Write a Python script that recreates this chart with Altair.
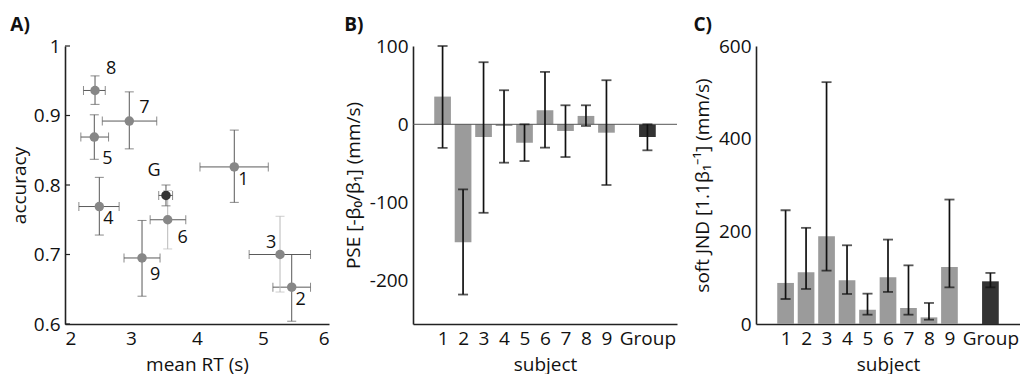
import altair as alt
import pandas as pd

FONT = "Open Sans"

# ---------------- Panel A data ----------------
subj_a = ["1", "2", "3", "4", "5", "6", "7", "8", "9", "G"]
rt_mean = [4.565, 5.435, 5.258, 2.52, 2.444, 3.556, 2.974, 2.455, 3.167, 3.53]
rt_low = [4.045, 5.15, 4.79, 2.21, 2.24, 3.29, 2.565, 2.28, 2.894, 3.42]
rt_high = [5.08, 5.72, 5.72, 2.82, 2.66, 3.83, 3.39, 2.61, 3.44, 3.63]
acc_mean = [0.826, 0.653, 0.700, 0.769, 0.869, 0.750, 0.892, 0.936, 0.695, 0.785]
acc_low = [0.775, 0.604, 0.646, 0.728, 0.837, 0.708, 0.852, 0.916, 0.640, 0.770]
acc_high = [0.879, 0.700, 0.755, 0.811, 0.901, 0.792, 0.934, 0.957, 0.749, 0.800]
a_x_ticks = [2, 3, 4, 5, 6]
a_y_ticks = [0.6, 0.7, 0.8, 0.9, 1.0]

# ---------------- Panels B / C data ----------------
subj_bc = ["1", "2", "3", "4", "5", "6", "7", "8", "9", "Group"]
subj_pos = [1, 2, 3, 4, 5, 6, 7, 8, 9, 11]
pse = [35.4, -150.5, -16.2, -2.1, -23.4, 17.9, -8.5, 10.7, -10.7, -16.2]
pse_low = [-30.1, -217.4, -113.0, -49.0, -46.9, -29.8, -41.8, -2.1, -77.5, -33.2]
pse_high = [100.0, -83.1, 79.3, 43.5, 0.0, 66.9, 24.3, 24.3, 56.3, 0.0]
jnd = [88.6, 111.5, 189.3, 94.2, 30.9, 100.7, 34.6, 14.3, 123.2, 92.1]
jnd_low = [54.0, 75.6, 115.2, 64.8, 20.1, 69.2, 20.1, 9.3, 79.1, 79.1]
jnd_high = [245.5, 207.5, 522.0, 169.9, 65.5, 182.2, 126.6, 45.4, 268.6, 110.2]
b_y_ticks = [-200, -100, 0, 100]
c_y_ticks = [0, 200, 400, 600]

# label offsets (style) for panel A point labels
label_offsets = {
    "1": (9, 13), "2": (9, 13), "3": (-9, -12), "4": (9, 12), "5": (13, 22),
    "6": (15, 18), "7": (15, -13), "8": (16, -21), "9": (13, 17), "G": (-12, -24),
}

W, H = 264, 278

df_a = pd.DataFrame({
    "subject": subj_a, "rt": rt_mean, "rt_low": rt_low, "rt_high": rt_high,
    "acc": acc_mean, "acc_low": acc_low, "acc_high": acc_high,
})

x_scale_a = alt.Scale(domain=[2, 6], nice=False, zero=False)
y_scale_a = alt.Scale(domain=[0.6, 1.0], nice=False, zero=False)
x_axis_a = alt.Axis(values=a_x_ticks, title="mean RT (s)", labelOverlap=False, titlePadding=7)
y_axis_a = alt.Axis(values=a_y_ticks, title="accuracy", labelOverlap=False,
                    labelExpr="datum.value == 1 ? '1' : format(datum.value, '.1f')",
                    titlePadding=4)


def XA(f):
    return alt.X(f"{f}:Q", scale=x_scale_a, axis=x_axis_a)


def YA(f):
    return alt.Y(f"{f}:Q", scale=y_scale_a, axis=y_axis_a)


base_a = alt.Chart(df_a)
err_col = alt.condition(alt.FieldOneOfPredicate(field="subject", oneOf=["3", "6"]),
                        alt.value("#b9b9b9"), alt.value("#585858"))

xerr = base_a.mark_rule(color="#5a5a5a", strokeWidth=1).encode(x=XA("rt_low"), x2="rt_high", y=YA("acc"))
xcap1 = base_a.mark_tick(orient="vertical", size=9, thickness=1, color="#5a5a5a").encode(x=XA("rt_low"), y=YA("acc"))
xcap2 = base_a.mark_tick(orient="vertical", size=9, thickness=1, color="#5a5a5a").encode(x=XA("rt_high"), y=YA("acc"))
yerr = base_a.mark_rule(strokeWidth=1).encode(x=XA("rt"), y=YA("acc_low"), y2="acc_high", color=err_col)
ycap1 = base_a.mark_tick(orient="horizontal", size=9, thickness=1).encode(x=XA("rt"), y=YA("acc_low"), color=err_col)
ycap2 = base_a.mark_tick(orient="horizontal", size=9, thickness=1).encode(x=XA("rt"), y=YA("acc_high"), color=err_col)
pts = base_a.mark_circle(size=90, opacity=1).encode(
    x=XA("rt"), y=YA("acc"),
    color=alt.condition(alt.datum.subject == "G", alt.value("#333333"), alt.value("#878787")),
)
inticks = alt.Chart(pd.DataFrame({"t": a_y_ticks})).mark_rule(color="#222", strokeWidth=1.2).encode(
    y=alt.Y("t:Q", scale=y_scale_a, axis=y_axis_a), x=alt.value(0), x2=alt.value(5))

labels = []
for s in subj_a:
    dx, dy = label_offsets[s]
    labels.append(
        base_a.transform_filter(alt.datum.subject == s)
        .mark_text(dx=dx, dy=dy, fontSize=18, font=FONT, color="#111", align="center", baseline="middle")
        .encode(x=XA("rt"), y=YA("acc"), text="subject:N")
    )

title_kw = dict(anchor="start", frame="bounds", fontSize=19, fontWeight="bold", font=FONT,
                offset=2, color="#111")

panel_a = alt.layer(inticks, xerr, xcap1, xcap2, yerr, ycap1, ycap2, pts, *labels).properties(
    width=W, height=H, title=alt.TitleParams("A)", **title_kw))

# ---------------- Panel B / C ----------------
df_b = pd.DataFrame({"subject": subj_bc, "pos": subj_pos, "val": pse, "low": pse_low, "high": pse_high})
df_c = pd.DataFrame({"subject": subj_bc, "pos": subj_pos, "val": jnd, "low": jnd_low, "high": jnd_high})

x_scale_bc = alt.Scale(domain=[-0.2, 12.2], nice=False, zero=False)
x_axis_bc = alt.Axis(values=subj_pos, title="subject", labelOverlap=False, titlePadding=7,
                     labelExpr="datum.value == 11 ? 'Group' : '' + datum.value")

bar_col = alt.condition(alt.datum.subject == "Group", alt.value("#333333"), alt.value("#9b9b9b"))


def bar_panel(df, ydomain, yticks, ytitle, tpad, zero_line, letter):
    y_scale = alt.Scale(domain=ydomain, nice=False, zero=False)
    y_axis = alt.Axis(values=yticks, title=ytitle, labelOverlap=False,
                      labelExpr="'' + datum.value", titlePadding=tpad)

    def X(f):
        return alt.X(f"{f}:Q", scale=x_scale_bc, axis=x_axis_bc)

    def Y(f):
        return alt.Y(f"{f}:Q", scale=y_scale, axis=y_axis)

    base = alt.Chart(df)
    bars = base.mark_bar(size=16.7).encode(x=X("pos"), y=Y("val"), y2=alt.datum(0), color=bar_col)
    err = base.mark_rule(color="#111", strokeWidth=1.7).encode(x=X("pos"), y=Y("low"), y2="high")
    cap1 = base.mark_tick(orient="horizontal", size=10, thickness=1.8, color="#111").encode(x=X("pos"), y=Y("low"))
    cap2 = base.mark_tick(orient="horizontal", size=10, thickness=1.8, color="#111").encode(x=X("pos"), y=Y("high"))
    layers = [bars]
    if zero_line:
        layers.append(alt.Chart(pd.DataFrame({"z": [0]})).mark_rule(color="#555", strokeWidth=1).encode(
            y=alt.Y("z:Q", scale=y_scale, axis=y_axis)))
    layers += [err, cap1, cap2]
    return alt.layer(*layers).properties(width=W, height=H, title=alt.TitleParams(letter, **title_kw))


panel_b = bar_panel(df_b, [-255, 100], b_y_ticks, "PSE [-β₀/β₁] (mm/s)", 6, True, "B)")
panel_c = bar_panel(df_c, [0, 600], c_y_ticks, "soft JND [1.1β₁⁻¹] (mm/s)", 6, False, "C)")

chart = (
    alt.hconcat(panel_a, panel_b, panel_c, spacing=15)
    .properties(padding={"left": 2, "top": 8, "right": 0, "bottom": 0})
    .configure_axis(labelFont=FONT, titleFont=FONT, labelFontSize=19, titleFontSize=19,
                    labelColor="#111", titleColor="#111", titleFontWeight="normal",
                    domainColor="#222", domainWidth=1.6, ticks=False, grid=False, labelPadding=5)
    .configure_view(stroke=None)
)

chart.save("out.html", embed_options={"renderer": "svg", "actions": False})
